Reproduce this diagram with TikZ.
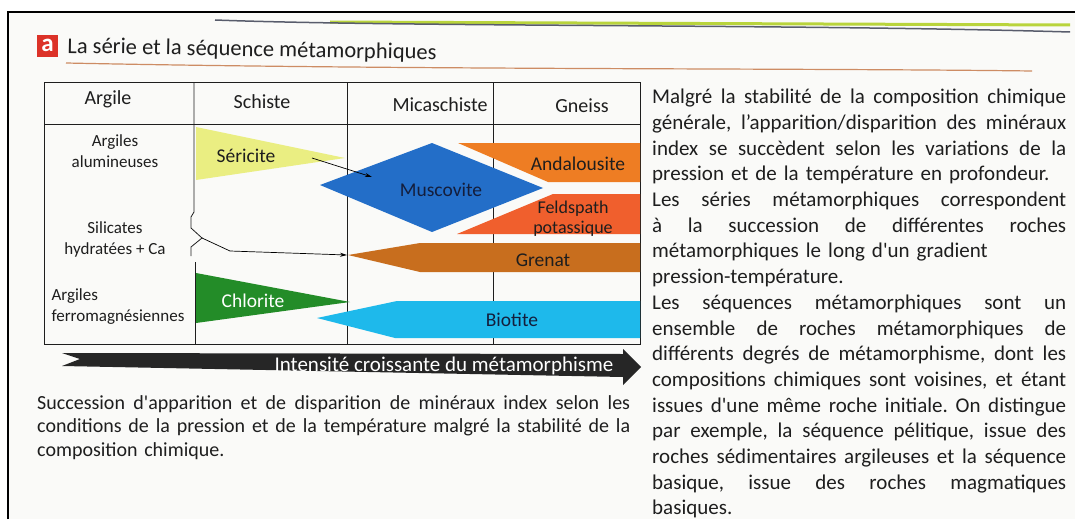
\documentclass[tikz,border=0pt]{standalone}
\usepackage{fontspec}
\setmainfont{Carlito}[Ligatures=TeXOff]
\usetikzlibrary{arrows.meta}
\frenchspacing

\definecolor{paper}{RGB}{250,250,248}
\definecolor{framegreen}{RGB}{185,212,60}
\definecolor{framegray}{RGB}{88,92,108}
\definecolor{rule}{RGB}{205,140,100}
\definecolor{boxred}{RGB}{220,50,40}
\definecolor{sericite}{RGB}{234,238,130}
\definecolor{muscovite}{RGB}{35,110,200}
\definecolor{andalousite}{RGB}{238,125,35}
\definecolor{feldspath}{RGB}{240,95,45}
\definecolor{grenat}{RGB}{200,110,30}
\definecolor{chlorite}{RGB}{35,140,40}
\definecolor{biotite}{RGB}{30,185,235}
\definecolor{ink}{RGB}{30,30,30}
\definecolor{navy}{RGB}{20,30,60}

\newcommand{\jline}[1]{\hbox to \hsize{\spaceskip=0pt\xspaceskip=0pt #1}}
\newcommand{\rline}[1]{\hbox to \hsize{#1\hfil}}

\tikzset{
  head/.style={font=\fontsize{20}{24}\selectfont, text=ink},
  rowlabel/.style={font=\fontsize{17}{21}\selectfont, align=center, text=ink},
  mineral/.style={font=\fontsize{19.5}{22}\selectfont, text=ink},
  para/.style={inner sep=0pt, anchor=north west, text=ink, align=left}
}

\begin{document}
\begin{tikzpicture}[x=1pt, y=-1pt, >={Stealth[length=7pt,width=4pt]}]

\useasboundingbox (0,0) rectangle (1075,519);
\fill[paper] (8,12) rectangle (1075,519);
\draw[line width=2pt] (8,519) -- (8,12) -- (1075,12);
\draw[framegreen, line width=3pt] (330,22) -- (1070,25);
\draw[framegray, line width=1.5pt] (215,20) .. controls (400,27) and (800,24) .. (1070,32);
\draw[rule, line width=1.2pt] (66,63) .. controls (400,70) and (800,68) .. (1032,71);

\fill[boxred] (37,35) rectangle (58,57);
\node[text=white, font=\fontsize{25}{28}\selectfont\bfseries] (letter) at (47.5,45) {a};
\node[anchor=west, rotate=-1, text=ink, font=\fontsize{22.5}{26}\selectfont] (title) at (64,47) {La série et la séquence métamorphiques};

\begin{scope}[line width=0.8pt, draw=ink]
\draw (44,82) rectangle (640,344);
\draw (44,124) -- (640,124);
\foreach \x in {347,493} {\draw (\x,82) -- (\x,344);}
\draw (194,82) -- (194,212) -- (191,217) -- (191,228) -- (202,238) -- (191,247) -- (191,256);
\draw (195,262) -- (195,344);
\end{scope}

\node[head] (argile) at (108,99) {Argile};
\node[head] (schiste) at (262,102) {Schiste};
\node[head] (micaschiste) at (440,105) {Micaschiste};
\node[head] (gneiss) at (582,106) {Gneiss};

\node[rowlabel] (alumineuses) at (115,151) {Argiles\\alumineuses};
\node[rowlabel] (silicates) at (115,239) {Silicates\\hydratées + Ca};
\node[rowlabel, align=left, anchor=west] (ferro) at (48,307) {Argiles\\ferromagnésiennes};

\fill[sericite] (196,127) -- (345,158) -- (196,180) -- cycle;
\fill[muscovite] (320,185) -- (432,143) -- (543,188) -- (432,232) -- cycle;
\fill[andalousite] (458,143) -- (640,143) -- (640,182) -- (548,182) -- cycle;
\fill[feldspath] (553,194) -- (640,194) -- (640,234) -- (457,234) -- cycle;
\fill[grenat] (348,255) -- (420,243) -- (640,243) -- (640,272) -- (420,272) -- cycle;
\fill[chlorite] (196,273) -- (350,302) -- (196,323) -- cycle;
\fill[biotite] (317,318) -- (397,301) -- (640,301) -- (640,338) -- (395,338) -- cycle;

\node[mineral] (sericite) at (246,156) {Séricite};
\node[mineral, text=navy] (muscovite) at (441,190) {Muscovite};
\node[mineral] (andalousite) at (578,164) {Andalousite};
\node[mineral, font=\fontsize{18}{20}\selectfont, align=center] (feldspath) at (573,219) {Feldspath\\potassique};
\node[mineral] (grenat) at (543,260) {Grenat};
\node[mineral, text=white] (chlorite) at (253,301) {Chlorite};
\node[mineral, text=navy] (biotite) at (512,320) {Biotite};

\coordinate (sericite-out) at (312,158);
\coordinate (muscovite-in) at (372,177);
\coordinate (brace) at (202,238);
\coordinate (grenat-tip) at (347,255);
\draw[->, line width=0.7pt] (sericite-out) -- (muscovite-in);
\draw[->, line width=0.7pt] (brace) -- ++(28,13) -- (grenat-tip);

\fill[black!85] (62,353) -- (623,354) -- (623,349) -- (641,367) -- (623,385) -- (623,377) -- (62,366) -- (80,359) -- cycle;
\node[text=white, font=\fontsize{21}{24}\selectfont] (intensite) at (444,366) {Intensité croissante du métamorphisme};

\node[para, text width=593pt, font=\fontsize{20}{23.5}\selectfont] (legende) at (37,395) {%
\jline{Succession d'apparition et de disparition de minéraux index selon les}
\jline{conditions de la pression et de la température malgré la stabilité de la}
\rline{composition chimique.}};

\node[para, text width=414pt, font=\fontsize{21}{25.7}\selectfont] (texte) at (652,89) {%
\jline{Malgré la stabilité de la composition chimique}
\jline{générale, l’apparition/disparition des minéraux}
\jline{index se succèdent selon les variations de la}
\rline{pression et de la température en profondeur.}
\jline{Les séries métamorphiques correspondent}
\jline{à la succession de différentes roches}
\rline{métamorphiques le long d'un gradient}
\rline{pression-température.}
\jline{Les séquences métamorphiques sont un}
\jline{ensemble de roches métamorphiques de}
\jline{différents degrés de métamorphisme, dont les}
\jline{compositions chimiques sont voisines, et étant}
\jline{issues d'une même roche initiale. On distingue}
\jline{par exemple, la séquence pélitique, issue des}
\jline{roches sédimentaires argileuses et la séquence}
\jline{basique, issue des roches magmatiques}
\rline{basiques.}};

\end{tikzpicture}
\end{document}
